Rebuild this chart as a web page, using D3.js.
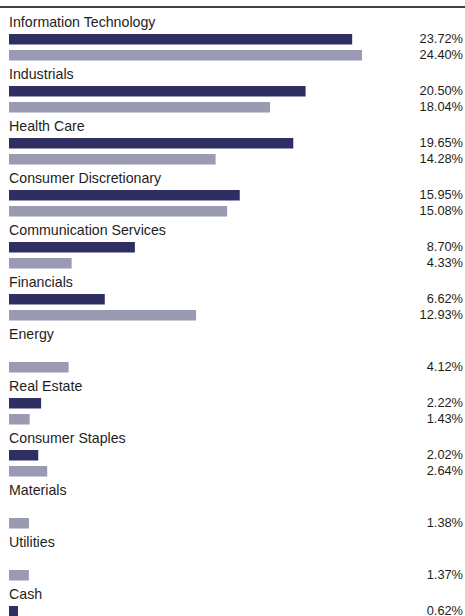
<!DOCTYPE html>
<html>
<head>
<meta charset="utf-8">
<script src="https://cdn.jsdelivr.net/npm/d3@7"></script>
<style>
  body { margin: 0; background: #fff; }
  svg text { font-family: "Liberation Sans", Arial, Helvetica, sans-serif; fill: #1e1e1e; }
</style>
</head>
<body>
<svg id="chart" width="465" height="616"></svg>
<script>
// sector weights, fund (dark) vs index (light)
const sectors = ['Information Technology', 'Industrials', 'Health Care', 'Consumer Discretionary',
    'Communication Services', 'Financials', 'Energy', 'Real Estate', 'Consumer Staples',
    'Materials', 'Utilities', 'Cash'];
const fundValues = [23.72, 20.50, 19.65, 15.95, 8.70, 6.62, null, 2.22, 2.02, null, null, 0.62];
const indexValues = [24.40, 18.04, 14.28, 15.08, 4.33, 12.93, 4.12, 1.43, 2.64, 1.38, 1.37, null];

const svg = d3.select('#chart');
const width = 465;
const left = 9;
const groupStep = 52;
const firstBarTop = 34;
const barH = 10.5;
const colors = ['#2e2e63', '#9a9ab3'];

const x = d3.scaleLinear().domain([0, 24.40]).range([0, 353]);
const y = d3.scaleBand().domain(sectors).range([firstBarTop, firstBarTop + groupStep * sectors.length]).padding(0);

// top rule
svg.append('line')
    .attr('x1', 0).attr('x2', width)
    .attr('y1', 7).attr('y2', 7)
    .attr('stroke', '#000').attr('stroke-width', 1.5);

const groups = svg.selectAll('g.sector')
    .data(sectors)
    .enter().append('g')
    .attr('class', 'sector')
    .attr('transform', d => `translate(0,${y(d)})`);

groups.append('text')
    .attr('x', left)
    .attr('y', -7)
    .attr('font-size', 14.2)
    .text(d => d);

[fundValues, indexValues].forEach((series, s) => {
    groups.each(function (d, i) {
        const v = series[i];
        if (v == null) return;
        const g = d3.select(this);
        const top = s * 16;
        g.append('rect')
            .attr('x', left)
            .attr('y', top)
            .attr('width', x(v))
            .attr('height', barH)
            .attr('fill', colors[s]);
        g.append('text')
            .attr('x', 463)
            .attr('y', top + 9)
            .attr('text-anchor', 'end')
            .attr('font-size', 12.8)
            .text(v.toFixed(2) + '%');
    });
});
</script>
</body>
</html>
